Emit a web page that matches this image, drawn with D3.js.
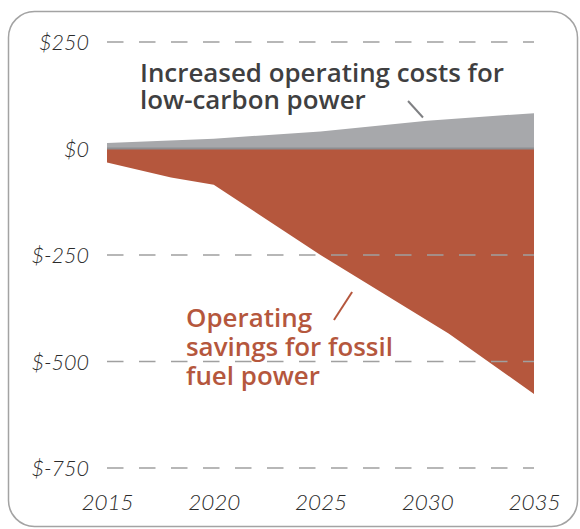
<!DOCTYPE html>
<html>
<head>
<meta charset="utf-8">
<script src="https://cdn.jsdelivr.net/npm/d3@7"></script>
<style>
  html, body { margin: 0; padding: 0; background: #fff; }
  svg { display: block; }
</style>
</head>
<body>
<svg id="chart" width="580" height="529"></svg>
<script>
// ---- Data (billions of dollars) ----
const years = [2015, 2020, 2025, 2030, 2035];
const costYears = [2015, 2020, 2025, 2030, 2035];
const costValues = [13, 23, 40, 65, 83];            // increased operating costs (low-carbon)
const savingYears = [2015, 2018, 2020, 2025, 2031, 2035];
const savingValues = [-33, -68, -85, -250, -434, -576]; // operating savings (fossil)
const yTicks = [250, 0, -250, -500, -750];
const yTickLabels = ["$250", "$0", "$-250", "$-500", "$-750"];
const xTickLabels = ["2015", "2020", "2025", "2030", "2035"];
const costLabel = ["Increased operating costs for", "low-carbon power"];
const saveLabel = ["Operating", "savings for fossil", "fuel power"];

const svg = d3.select("#chart");

const x = d3.scaleLinear().domain([2015, 2035]).range([107, 534]);
const y = d3.scaleLinear().domain([-750, 250]).range([468, 42]);

// frame
svg.append("rect")
  .attr("x", 8.5).attr("y", 11.5)
  .attr("width", 569).attr("height", 515)
  .attr("rx", 26).attr("ry", 26)
  .attr("fill", "none").attr("stroke", "#a3a3a3").attr("stroke-width", 1.5);

// areas
const costData = costYears.map((d, i) => ({ year: d, v: costValues[i] }));
const saveData = savingYears.map((d, i) => ({ year: d, v: savingValues[i] }));
const area = d3.area().x(d => x(d.year)).y0(y(0)).y1(d => y(d.v));

svg.append("path").datum(costData).attr("d", area).attr("fill", "#a7a8ab");
svg.append("path").datum(saveData).attr("d", area).attr("fill", "#b5573d");

// gridlines (dashed, over areas), except zero
const grid = svg.append("g");
yTicks.forEach(t => {
  if (t === 0) return;
  grid.append("line")
    .attr("x1", x(2015)).attr("x2", x(2035))
    .attr("y1", y(t)).attr("y2", y(t))
    .attr("stroke", "#a0a0a0").attr("stroke-width", 1.5)
    .attr("stroke-dasharray", "16.5,15.5");
});
// zero line
svg.append("line")
  .attr("x1", x(2015)).attr("x2", x(2035))
  .attr("y1", y(0)).attr("y2", y(0))
  .attr("stroke", "#8d8e91").attr("stroke-width", 2.2);

// axis labels
const axisFont = "Lato, 'Open Sans', sans-serif";
const yAxis = d3.axisLeft(y).tickValues(yTicks).tickSize(0).tickPadding(0)
  .tickFormat((d, i) => yTickLabels[i]);
const yg = svg.append("g").attr("transform", "translate(89,0)").call(yAxis);
yg.select(".domain").remove();
yg.selectAll("text")
  .attr("font-family", axisFont).attr("font-style", "italic").attr("font-weight", 300)
  .attr("font-size", 21.5).attr("fill", "#2b2b2b").attr("dy", "0.35em");

const xAxis = d3.axisBottom(x).tickValues(years).tickSize(0).tickPadding(0)
  .tickFormat((d, i) => xTickLabels[i]);
const xg = svg.append("g").attr("transform", "translate(0,494)").call(xAxis);
xg.select(".domain").remove();
xg.selectAll("text")
  .attr("font-family", axisFont).attr("font-style", "italic").attr("font-weight", 300)
  .attr("font-size", 22.5).attr("fill", "#2b2b2b").attr("dy", "0.71em");

// multi-line label helper; font size fitted so that line `fitIdx` has target width
const labelFont = "'Open Sans', Lato, sans-serif";
function multiLabel(lines, x0, y0, lh, fill, fitIdx, target) {
  const t = svg.append("text")
    .attr("font-family", labelFont).attr("font-weight", 600)
    .attr("font-size", 25).attr("fill", fill);
  const spans = lines.map((s, i) =>
    t.append("tspan").attr("x", x0).attr("y", y0 + i * lh).text(s));
  const w = spans[fitIdx].node().getComputedTextLength();
  if (w > 0) t.attr("font-size", (25 * target / w).toFixed(2));
  return t;
}

multiLabel(costLabel, 140, 81.5, 27.5, "#3f3f41", 0, 364);
svg.append("line")
  .attr("x1", x(2029.1)).attr("y1", y(111.5))
  .attr("x2", x(2029.8)).attr("y2", y(72.8))
  .attr("stroke", "#7f8083").attr("stroke-width", 2);

multiLabel(saveLabel, 186, 326.5, 29.2, "#b5573d", 1, 207);
svg.append("line")
  .attr("x1", x(2026.48)).attr("y1", y(-337))
  .attr("x2", x(2025.63)).attr("y2", y(-402.7))
  .attr("stroke", "#b5573d").attr("stroke-width", 2);
</script>
</body>
</html>
